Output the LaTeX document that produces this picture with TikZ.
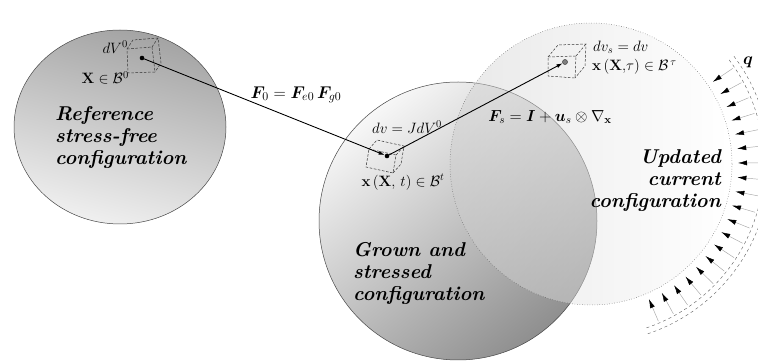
\documentclass[tikz,border=0pt]{standalone}
\usepackage{fix-cm}
\usepackage{amsmath,amssymb,bm}
\usetikzlibrary{arrows.meta,calc}

% dashed volume element: front corners TL, TR, BR, BL and depth offset
\newcommand{\dcube}[5]{%
  \draw[cubeline] (#1) -- (#2) -- (#3) -- (#4) -- cycle;
  \draw[cubeline] (#1) -- ($(#1)+(#5)$) -- ($(#2)+(#5)$) -- ($(#3)+(#5)$) -- (#3);
  \draw[cubeline] (#2) -- ($(#2)+(#5)$);
}

\tikzset{
  cubeline/.style={line width=0.5pt,dash pattern=on 2.6pt off 1.6pt,black!80},
  dot/.style={circle,fill=black,inner sep=0pt,minimum size=4.6pt},
  lab/.style={inner sep=0pt,font=\fontsize{15}{17}\selectfont},
  conf/.style={inner sep=0pt,font=\fontsize{20}{22}\selectfont\bfseries\itshape},
  map/.style={line width=0.9pt,-{Latex[length=6pt,width=4pt]}},
  load/.style={gray!70,line width=0.45pt,-{Latex[length=9pt,width=5pt,black]}},
}

\begin{document}
\begin{tikzpicture}[x=1pt,y=-1pt]
\useasboundingbox (0,0) rectangle (758,363);

% bodies
\shade[left color=gray!72,right color=gray!12,shading angle=-15,draw=gray!55!black,line width=0.5pt]
  (120,127) ellipse [x radius=106,y radius=97];
\shade[top color=gray!6,bottom color=gray!88,shading angle=38,draw=gray!55!black,line width=0.5pt]
  (458,221) circle (139);
\coordinate (Cu) at (591,164);
\shade[left color=gray!40,right color=white,opacity=0.45] (Cu) circle (141);
\draw[gray!70!black,line width=0.5pt,dotted] (Cu) circle (141);

% volume elements
\dcube{127,49}{152,47}{155,72}{128,73}{6,-9}
\dcube{369,149}{396,155}{393,173}{366,167}{8,-9}
\dcube{548,57}{576,56}{575,78}{548,76}{10,-12}

\node[dot] (P0) at (142,58) {};
\node[dot] (Pt) at (387,156) {};
\node[dot,fill=gray,draw=black!70,line width=0.6pt,minimum size=5pt] (Ps) at (565,62) {};

% mappings
\draw[map] (P0.center) -- (Pt);
\draw[map] (Pt.center) -- (Ps);

% surface load
\foreach \i in {0,...,18}{
  \pgfmathsetmacro\ang{-34+5.6*\i}
  \draw[load] ($(Cu)+(\ang:171)$) -- ($(Cu)+(\ang:147)$);
}
\draw[gray!70!black,dashed,line width=0.4pt] ($(Cu)+(-37:173)$) arc[start angle=-37,end angle=72,radius=173];
\draw[gray!70!black,dashed,line width=0.4pt] ($(Cu)+(-37:179)$) arc[start angle=-37,end angle=72,radius=179];
\node[lab,font=\fontsize{17}{19}\selectfont] (q) at (748,62) {$\bm{q}$};

% labels
\node[lab,anchor=east] (dV0) at (128,47) {$dV^0$};
\node[lab,anchor=east] (X0) at (129,78) {$\mathbf{X}\in\mathcal{B}^0$};
\node[lab,font=\fontsize{17}{19}\selectfont] (F0) at (296,95) {$\bm{F}_{0}=\bm{F}_{e0}\,\bm{F}_{g0}$};
\node[lab] (dv) at (407,127) {$dv=JdV^0$};
\node[lab] (xt) at (403,182) {$\mathbf{x}\,(\mathbf{X},\,t)\in\mathcal{B}^t$};
\node[lab,font=\fontsize{16}{18}\selectfont] (Fs) at (550,117) {$\bm{F}_{s}=\bm{I}+\bm{u}_s\otimes\nabla_{\mathbf{x}}$};
\node[lab,anchor=west] (dvs) at (593,47) {$dv_s=dv$};
\node[lab,anchor=west] (xs) at (592,67) {$\mathbf{x}\,(\mathbf{X}{,}\tau)\in\mathcal{B}^{\,\tau}$};

\node[conf,align=left,anchor=north west] (ref) at (55,106) {Reference\\stress-free\\configuration};
\node[conf,align=left,anchor=north west] (grown) at (353,242) {Grown and\\stressed\\configuration};
\node[conf,align=right,anchor=north east] (upd) at (721,149) {Updated\\current\\configuration};
\end{tikzpicture}
\end{document}
